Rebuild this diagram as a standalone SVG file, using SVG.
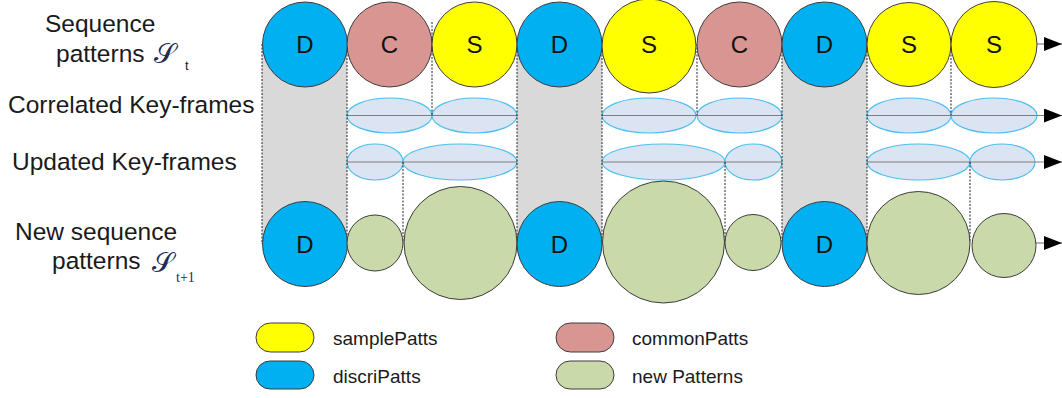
<svg xmlns="http://www.w3.org/2000/svg" width="1062" height="398" viewBox="0 0 1062 398">
  <style>
    .lbl { font-family: "Liberation Sans", Arial, sans-serif; font-size: 24.5px; fill: #1a1a1a; }
    .node { font-family: "Liberation Sans", Arial, sans-serif; font-size: 24px; fill: #111; text-anchor: middle; }
    .leg { font-family: "Liberation Sans", Arial, sans-serif; font-size: 19px; fill: #1a1a1a; }
    .scr { font-family: "DejaVu Serif", "Noto Sans", serif; font-size: 28px; fill: #1f2a55; }
    .sub { font-family: "Liberation Serif", "Times New Roman", serif; font-size: 14px; fill: #1f2a55; }
    .circ { stroke: #3c3c3c; stroke-width: 1; }
    .d { fill: #00b0f0; }
    .c { fill: #d99592; }
    .s { fill: #ffff00; }
    .n { fill: #c9d9a9; }
    .kf { fill: #dae4f3; stroke: #4dbfee; stroke-width: 1.2; }
    .axis { stroke: #7f7f7f; stroke-width: 1.2; fill: none; }
    .band { fill: #d9d9d9; }
    .dash { stroke: #222; stroke-width: 1; stroke-dasharray: 2 1.5; fill: none; }
  </style>
  <defs>
    <marker id="arrow" markerWidth="18" markerHeight="14" refX="18" refY="7" orient="auto" markerUnits="userSpaceOnUse">
      <path d="M0,0 L18,7 L0,14 Z" fill="#000"/>
    </marker>
  </defs>

  <!-- row labels -->
  <g id="labels">
    <text class="lbl" x="45" y="32">Sequence</text>
    <text class="lbl" x="56" y="62">patterns</text>
    <text class="scr" x="154" y="63">𝒮</text>
    <text class="lbl" x="185" y="70" style="font-size:13px">t</text>
    <text class="lbl" x="8" y="113">Correlated Key-frames</text>
    <text class="lbl" x="12" y="170">Updated Key-frames</text>
    <text class="lbl" x="15" y="240">New sequence</text>
    <text class="lbl" x="52" y="269">patterns</text>
    <text class="scr" x="152" y="272">𝒮</text>
    <text class="sub" x="176" y="282">t+1</text>
  </g>

  <!-- discriminative bands linking D patterns across rows -->
  <g id="bands">
    <rect class="band" x="262" y="44" width="85" height="200"/>
    <rect class="band" x="517" y="44" width="85" height="200"/>
    <rect class="band" x="782" y="44" width="85" height="200"/>
  </g>

  <!-- key-frame ellipses -->
  <g id="correlated">
    <ellipse class="kf" cx="389.5" cy="115.5" rx="42.5" ry="17.5"/>
    <ellipse class="kf" cx="474.5" cy="115.5" rx="42.5" ry="17.5"/>
    <ellipse class="kf" cx="649" cy="115.5" rx="47" ry="17.5"/>
    <ellipse class="kf" cx="739.5" cy="115.5" rx="42.5" ry="17.5"/>
    <ellipse class="kf" cx="909" cy="115.5" rx="42" ry="17.5"/>
    <ellipse class="kf" cx="994" cy="115.5" rx="43" ry="17.5"/>
  </g>
  <g id="updated">
    <ellipse class="kf" cx="375" cy="162" rx="28" ry="18"/>
    <ellipse class="kf" cx="460" cy="162" rx="57" ry="18"/>
    <ellipse class="kf" cx="663.5" cy="162" rx="61.5" ry="18"/>
    <ellipse class="kf" cx="753.5" cy="162" rx="28.5" ry="18"/>
    <ellipse class="kf" cx="918.5" cy="162" rx="51.5" ry="18"/>
    <ellipse class="kf" cx="1002.5" cy="162" rx="32.5" ry="18"/>
  </g>

  <!-- connectors: time axes and dashed alignment lines -->
  <g id="connectors">
    <line class="axis" x1="347" y1="115.5" x2="517" y2="115.5"/>
    <line class="axis" x1="602" y1="115.5" x2="782" y2="115.5"/>
    <line class="axis" x1="867" y1="115.5" x2="1062" y2="115.5" marker-end="url(#arrow)"/>
    <line class="axis" x1="347" y1="162" x2="517" y2="162"/>
    <line class="axis" x1="602" y1="162" x2="782" y2="162"/>
    <line class="axis" x1="867" y1="162" x2="1062" y2="162" marker-end="url(#arrow)"/>
    <line class="axis" x1="1037" y1="44" x2="1062" y2="44" marker-end="url(#arrow)"/>
    <line class="axis" x1="1036" y1="243" x2="1062" y2="243" marker-end="url(#arrow)"/>

    <line class="dash" x1="262" y1="44" x2="262" y2="244"/>
    <line class="dash" x1="347" y1="44" x2="347" y2="244"/>
    <line class="dash" x1="517" y1="44" x2="517" y2="244"/>
    <line class="dash" x1="602" y1="44" x2="602" y2="244"/>
    <line class="dash" x1="782" y1="44" x2="782" y2="244"/>
    <line class="dash" x1="867" y1="44" x2="867" y2="244"/>
    <line class="dash" x1="432" y1="22" x2="432" y2="115"/>
    <line class="dash" x1="697" y1="44" x2="697" y2="115"/>
    <line class="dash" x1="951" y1="44" x2="951" y2="115"/>
    <line class="dash" x1="403" y1="162" x2="403" y2="243"/>
    <line class="dash" x1="725" y1="162" x2="725" y2="243"/>
    <line class="dash" x1="970" y1="162" x2="970" y2="243"/>
  </g>

  <!-- sequence patterns S_t -->
  <g id="top-d1"><circle class="circ d" cx="305" cy="44.5" r="42.5"/><text class="node" x="305" y="53">D</text></g>
  <g id="top-c1"><circle class="circ c" cx="389.5" cy="44.5" r="42.5"/><text class="node" x="389.5" y="53">C</text></g>
  <g id="top-s1"><circle class="circ s" cx="474.5" cy="44.5" r="42.5"/><text class="node" x="474.5" y="53">S</text></g>
  <g id="top-d2"><circle class="circ d" cx="559.5" cy="44.5" r="42.5"/><text class="node" x="559.5" y="53">D</text></g>
  <g id="top-s2"><circle class="circ s" cx="649" cy="46" r="47"/><text class="node" x="649" y="53">S</text></g>
  <g id="top-c2"><circle class="circ c" cx="739.5" cy="44.5" r="42.5"/><text class="node" x="739.5" y="53">C</text></g>
  <g id="top-d3"><circle class="circ d" cx="824.5" cy="44.5" r="42.5"/><text class="node" x="824.5" y="53">D</text></g>
  <g id="top-s3"><circle class="circ s" cx="909" cy="44.5" r="42"/><text class="node" x="909" y="53">S</text></g>
  <g id="top-s4"><circle class="circ s" cx="994" cy="44.5" r="43"/><text class="node" x="994" y="53">S</text></g>

  <!-- new sequence patterns S_t+1 -->
  <g id="new-d1"><circle class="circ d" cx="305" cy="244" r="42.5"/><text class="node" x="305" y="252.5">D</text></g>
  <g id="new-n1"><circle class="circ n" cx="375" cy="243" r="28"/></g>
  <g id="new-n2"><circle class="circ n" cx="460.5" cy="243" r="56.5"/></g>
  <g id="new-d2"><circle class="circ d" cx="559.5" cy="244" r="42.5"/><text class="node" x="559.5" y="252.5">D</text></g>
  <g id="new-n3"><circle class="circ n" cx="663.5" cy="242" r="61"/></g>
  <g id="new-n4"><circle class="circ n" cx="753" cy="242.5" r="28"/></g>
  <g id="new-d3"><circle class="circ d" cx="824.5" cy="244" r="42.5"/><text class="node" x="824.5" y="252.5">D</text></g>
  <g id="new-n5"><circle class="circ n" cx="918.5" cy="243" r="51.5"/></g>
  <g id="new-n6"><circle class="circ n" cx="1004" cy="245.5" r="32"/></g>

  <!-- legend -->
  <g id="legend">
    <rect class="circ s" x="256" y="323" width="58" height="29" rx="14.5"/>
    <text class="leg" x="333" y="345">samplePatts</text>
    <rect class="circ d" x="256" y="361" width="58" height="28" rx="14"/>
    <text class="leg" x="333" y="383">discriPatts</text>
    <rect class="circ c" x="556" y="323" width="58" height="29" rx="14.5"/>
    <text class="leg" x="632" y="345">commonPatts</text>
    <rect class="circ n" x="556" y="361" width="58" height="28" rx="14"/>
    <text class="leg" x="632" y="383">new Patterns</text>
  </g>
</svg>
